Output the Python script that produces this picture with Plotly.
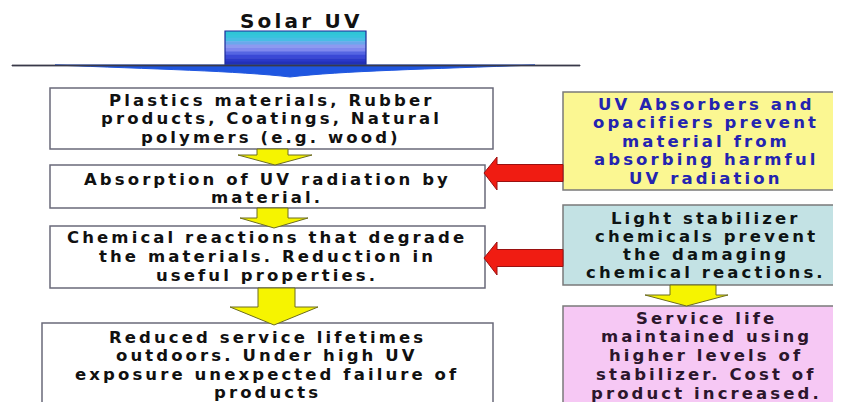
import plotly.graph_objects as go

# ---------------- content ----------------
title_text = "Solar UV"

left_box_lines = [
    ["Plastics materials, Rubber", "products, Coatings, Natural", "polymers (e.g. wood)"],
    ["Absorption of UV radiation by", "material."],
    ["Chemical reactions that degrade", "the materials. Reduction in", "useful properties."],
    ["Reduced service lifetimes", "outdoors. Under high UV", "exposure unexpected failure of", "products"],
]

right_box_lines = [
    ["UV Absorbers and", "opacifiers prevent", "material from", "absorbing harmful", "UV radiation"],
    ["Light stabilizer", "chemicals prevent", "the damaging", "chemical reactions."],
    ["Service life", "maintained using", "higher levels of", "stabilizer. Cost of", "product increased."],
]

# ---------------- layout geometry (pixels of the target picture) ----------------
W, H = 841, 402
OFF = 8  # page body margin: shift the coordinate frame so drawing lands in place
left_rects = [(50, 88, 493, 149), (50, 165, 485, 208), (50, 226, 485, 288), (42, 323, 493, 414)]
left_text = [(271, 100, 18.5), (267, 179, 18), (267, 237, 19), (267, 337, 18.5)]
right_rects = [(563, 92, 836, 190), (563, 205, 836, 285), (563, 306, 836, 414)]
right_text = [(706, 104, 18.6), (706, 218, 18.3), (706, 318, 18.8)]

left_fill = "#ffffff"
left_border = "#6a6a7a"
right_fills = ["#fbf792", "#c3e2e4", "#f6c8f4"]
right_border = "#7a7a7a"
left_color = "#111111"
right_colors = ["#2424b0", "#0e1414", "#2c162c"]

FONT = "DejaVu Sans"
FS = 16.5
LS = "3.1px"

fig = go.Figure()
fig.add_trace(go.Scatter(x=[None], y=[None], showlegend=False, hoverinfo="skip"))

shapes = []
annotations = []

def txt(x, y, s, color, size=FS, ls=LS):
    annotations.append(dict(
        x=x, y=y, xref="x", yref="y", showarrow=False,
        text=f"<span style='letter-spacing:{ls}'><b>{s}</b></span>",
        font=dict(family=FONT, size=size, color=color),
        xanchor="center", yanchor="middle",
    ))

# Solar UV gradient rectangle
grad = ["#2fc6d6", "#36c4dc", "#48bde4", "#6aa8ec", "#8c9af0", "#7f88ee", "#5565e2", "#3a48d6", "#2a38c8", "#2230b8"]
sx0, sy0, sx1, sy1 = 225, 31, 366, 65
step = (sy1 - sy0) / len(grad)
for i, c in enumerate(grad):
    shapes.append(dict(type="rect", xref="x", yref="y", x0=sx0, x1=sx1,
                       y0=sy0 + i * step, y1=sy0 + (i + 1) * step + 0.5,
                       fillcolor=c, line=dict(width=0), layer="above"))
shapes.append(dict(type="rect", xref="x", yref="y", x0=sx0, x1=sx1, y0=sy0, y1=sy1,
                   fillcolor="rgba(0,0,0,0)", line=dict(color="#1c2a9a", width=1.2), layer="above"))

# horizon line with blue lens
shapes.append(dict(type="path", xref="x", yref="y",
                   path="M 55,65 L 535,65 C 430,69 340,71 290,77 C 240,71 150,69 55,65 Z",
                   fillcolor="#1f56e0", line=dict(color="#1f56e0", width=1), layer="above"))
shapes.append(dict(type="path", xref="x", yref="y",
                   path="M 12,65 L 580,65 L 580,66 L 12,66 Z",
                   fillcolor="#3a3a4a", line=dict(color="#3a3a4a", width=0.8), layer="above"))

# boxes
for (x0, y0, x1, y1) in left_rects:
    shapes.append(dict(type="rect", xref="x", yref="y", x0=x0, y0=y0, x1=x1, y1=y1,
                       fillcolor=left_fill, line=dict(color=left_border, width=1.5)))
for (x0, y0, x1, y1), fc in zip(right_rects, right_fills):
    shapes.append(dict(type="rect", xref="x", yref="y", x0=x0, y0=y0, x1=x1, y1=y1,
                       fillcolor=fc, line=dict(color=right_border, width=1.5)))

# yellow down arrows: (shaft x0, shaft x1, top, head y, head x0, head x1, tip y)
down_arrows = [
    (257, 288, 149, 155, 238, 312, 165),
    (257, 288, 208, 218, 240, 308, 228),
    (258, 295, 288, 307, 230, 318, 325),
    (670, 716, 285, 295, 645, 728, 306),
]
for (a0, a1, top, hy, h0, h1, tip) in down_arrows:
    cx = (h0 + h1) / 2
    p = f"M {a0},{top} L {a1},{top} L {a1},{hy} L {h1},{hy} L {cx},{tip} L {h0},{hy} L {a0},{hy} Z"
    shapes.append(dict(type="path", xref="x", yref="y", path=p,
                       fillcolor="#f6f400", line=dict(color="#6c6c20", width=1), layer="above"))

# red left arrows
for yc in (173, 258):
    p = (f"M 484,{yc} L 497,{yc-16} L 497,{yc-8.5} L 563,{yc-8.5} L 563,{yc+8.5} "
         f"L 497,{yc+8.5} L 497,{yc+17} Z")
    shapes.append(dict(type="path", xref="x", yref="y", path=p,
                       fillcolor="#f01c12", line=dict(color="#9a1010", width=1), layer="above"))

# texts
txt(301, 21, title_text, "#111111", size=20, ls="3.2px")
for lines, (cx, y0, dy) in zip(left_box_lines, left_text):
    for i, s in enumerate(lines):
        txt(cx, y0 + i * dy, s, left_color)
for lines, (cx, y0, dy), col in zip(right_box_lines, right_text, right_colors):
    for i, s in enumerate(lines):
        txt(cx, y0 + i * dy, s, col)

fig.update_layout(
    width=W, height=H,
    margin=dict(l=0, r=0, t=0, b=0),
    paper_bgcolor="white", plot_bgcolor="white",
    xaxis=dict(range=[OFF, W + OFF], visible=False, fixedrange=True),
    yaxis=dict(range=[H + OFF, OFF], visible=False, fixedrange=True),
    shapes=shapes, annotations=annotations, showlegend=False,
)

fig.write_html("out.html", config={"displayModeBar": False})
